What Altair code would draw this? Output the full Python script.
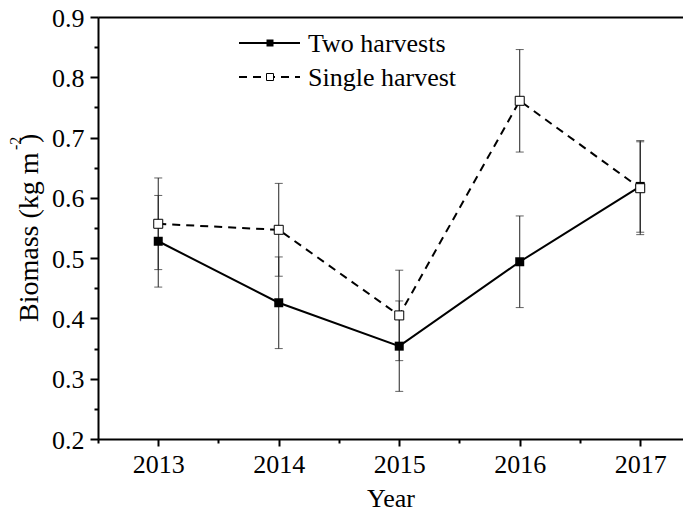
import altair as alt
import pandas as pd

# ---- data ----
years = [2013, 2014, 2015, 2016, 2017]
two_mean = [0.528, 0.426, 0.354, 0.494, 0.619]
two_err = [0.076, 0.076, 0.075, 0.076, 0.076]
single_mean = [0.557, 0.547, 0.405, 0.761, 0.616]
single_err = [0.076, 0.077, 0.075, 0.085, 0.077]
series_names = ["Two harvests", "Single harvest"]

y_ticks = [0.2, 0.3, 0.4, 0.5, 0.6, 0.7, 0.8, 0.9]
y_minor = [0.25, 0.35, 0.45, 0.55, 0.65, 0.75, 0.85]
x_minor = [2012.5, 2013.5, 2014.5, 2015.5, 2016.5]
x_title = "Year"
y_title_main = "Biomass (kg m"
y_title_sup = "-2"
y_title_end = ")"

rows = []
for yr, m, e in zip(years, two_mean, two_err):
    rows.append({"year": yr, "mean": m, "err": e, "series": series_names[0]})
for yr, m, e in zip(years, single_mean, single_err):
    rows.append({"year": yr, "mean": m, "err": e, "series": series_names[1]})
df = pd.DataFrame(rows)

FONT = "Liberation Serif"
W, H = 585, 422
xs = alt.Scale(domain=[2012.5, 2017.355], nice=False, zero=False)
ys = alt.Scale(domain=[0.2, 0.9], nice=False, zero=False)

base = alt.Chart(df).transform_calculate(
    lo="datum.mean - datum.err", hi="datum.mean + datum.err"
)

x_major = alt.Axis(
    orient="bottom", values=years, format="d", grid=False,
    tickSize=7, tickWidth=2, tickColor="black",
    domainColor="black", domainWidth=2,
    labelFont=FONT, labelFontSize=26, labelColor="black", labelPadding=5,
    title=x_title, titleFont=FONT, titleFontSize=26, titleFontWeight="normal",
    titleColor="black", titlePadding=8,
)
y_major = alt.Axis(
    orient="left", values=y_ticks, format=".1f", grid=False,
    tickSize=8, tickWidth=2, tickColor="black",
    domainColor="black", domainWidth=2,
    labelFont=FONT, labelFontSize=26, labelColor="black", labelPadding=6,
    labelOffset=1, title=None,
)
x_minor_axis = alt.Axis(
    orient="bottom", values=x_minor, grid=False, tickSize=4, tickWidth=2,
    tickColor="black", domain=False, labels=False, title=None,
)
y_minor_axis = alt.Axis(
    orient="left", values=y_minor, grid=False, tickSize=4, tickWidth=2,
    tickColor="black", domain=False, labels=False, title=None,
)
x_top_axis = alt.Axis(
    orient="top", grid=False, ticks=False, labels=False, domainColor="black",
    domainWidth=2, title=None,
)

err_rules = base.mark_rule(color="#222222", strokeWidth=1).encode(
    x=alt.X("year:Q", scale=xs, axis=x_major),
    y=alt.Y("lo:Q", scale=ys, axis=y_major),
    y2="hi:Q",
)
cap_lo = base.mark_tick(orient="horizontal", size=8, thickness=1, color="#222222").encode(
    x=alt.X("year:Q", scale=xs, axis=None),
    y=alt.Y("lo:Q", scale=ys, axis=None),
)
cap_hi = base.mark_tick(orient="horizontal", size=8, thickness=1, color="#222222").encode(
    x=alt.X("year:Q", scale=xs, axis=None),
    y=alt.Y("hi:Q", scale=ys, axis=None),
)
minor_axes = base.mark_point(opacity=0).encode(
    x=alt.X("year:Q", scale=xs, axis=x_minor_axis),
    y=alt.Y("mean:Q", scale=ys, axis=y_minor_axis),
)
top_axis = base.mark_point(opacity=0).encode(
    x=alt.X("year:Q", scale=xs, axis=x_top_axis),
    y=alt.Y("mean:Q", scale=ys, axis=None),
)

line_two = base.transform_filter(alt.datum.series == series_names[0]).mark_line(
    color="black", strokeWidth=2
).encode(
    x=alt.X("year:Q", scale=xs, axis=None),
    y=alt.Y("mean:Q", scale=ys, axis=None),
)
line_single = base.transform_filter(alt.datum.series == series_names[1]).mark_line(
    color="black", strokeWidth=2, strokeDash=[8, 6]
).encode(
    x=alt.X("year:Q", scale=xs, axis=None),
    y=alt.Y("mean:Q", scale=ys, axis=None),
)
pts_two = base.transform_filter(alt.datum.series == series_names[0]).mark_point(
    shape="square", filled=True, color="black", size=81, opacity=1
).encode(
    x=alt.X("year:Q", scale=xs, axis=None),
    y=alt.Y("mean:Q", scale=ys, axis=None),
)
pts_single = base.transform_filter(alt.datum.series == series_names[1]).mark_point(
    shape="square", fill="white", stroke="black", strokeWidth=1, size=81,
    opacity=1, fillOpacity=1,
).encode(
    x=alt.X("year:Q", scale=xs, axis=None),
    y=alt.Y("mean:Q", scale=ys, axis=None),
)

one = alt.Data(values=[{}])

# ---- legend ----
leg_line1 = alt.Chart(one).mark_rule(color="black", strokeWidth=2).encode(
    x=alt.value(141), x2=alt.value(202), y=alt.value(26)
)
leg_pt1 = alt.Chart(one).mark_point(
    shape="square", filled=True, color="black", size=49, opacity=1
).encode(x=alt.value(172), y=alt.value(26))
leg_txt1 = alt.Chart(one).mark_text(
    align="left", baseline="alphabetic", font=FONT, fontSize=26, color="black"
).encode(x=alt.value(210), y=alt.value(35), text=alt.value(series_names[0]))

leg_line2 = alt.Chart(one).mark_rule(color="black", strokeWidth=2, strokeDash=[8, 6]).encode(
    x=alt.value(141), x2=alt.value(202), y=alt.value(60)
)
leg_pt2 = alt.Chart(one).mark_point(
    shape="square", fill="white", stroke="black", strokeWidth=1, size=49,
    opacity=1, fillOpacity=1,
).encode(x=alt.value(172), y=alt.value(60))
leg_txt2 = alt.Chart(one).mark_text(
    align="left", baseline="alphabetic", font=FONT, fontSize=26, color="black"
).encode(x=alt.value(210), y=alt.value(69), text=alt.value(series_names[1]))

# ---- y title with superscript ----
yt_main = alt.Chart(one).mark_text(
    align="left", baseline="alphabetic", angle=270, font=FONT, fontSize=28, color="black"
).encode(x=alt.value(-60), y=alt.value(305), text=alt.value(y_title_main))
yt_sup = alt.Chart(one).mark_text(
    align="left", baseline="alphabetic", angle=270, font=FONT, fontSize=16, color="black"
).encode(x=alt.value(-77), y=alt.value(133), text=alt.value(y_title_sup))
yt_end = alt.Chart(one).mark_text(
    align="left", baseline="alphabetic", angle=270, font=FONT, fontSize=28, color="black"
).encode(x=alt.value(-60), y=alt.value(126), text=alt.value(y_title_end))

chart = alt.layer(
    err_rules, cap_lo, cap_hi, minor_axes, top_axis,
    line_two, line_single, pts_two, pts_single,
    leg_line1, leg_pt1, leg_txt1, leg_line2, leg_pt2, leg_txt2,
    yt_main, yt_sup, yt_end,
).resolve_axis(
    x="independent", y="independent"
).properties(
    width=W, height=H,
    autosize=alt.AutoSizeParams(type="none"),
    padding={"left": 90, "top": 9, "right": 0, "bottom": 72},
    background="white",
).configure_view(stroke=None)

chart.save("out.html", embed_options={"renderer": "svg", "actions": False})
